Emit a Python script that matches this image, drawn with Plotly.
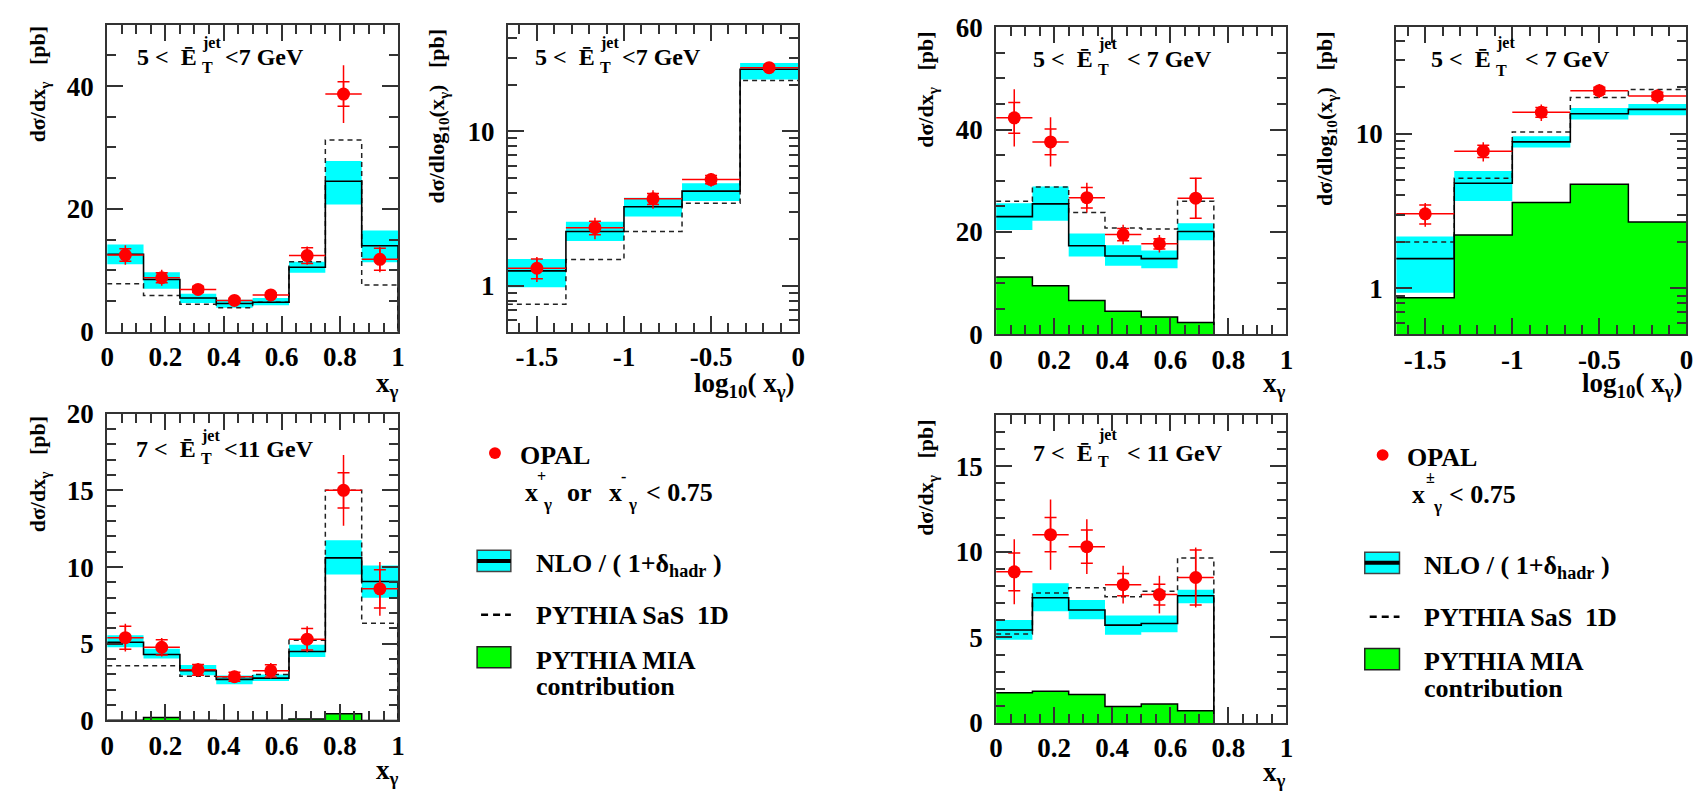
import plotly.graph_objects as go

W, H = 1706, 808
SERIF = "Liberation Serif, Times New Roman, Times, serif"
CYAN = "#00ffff"
GREEN = "#00ff00"
RED = "#ff0000"
AX = "#333333"

# ---------------- bin edges ----------------
xg_edges8 = [0, 0.125, 0.25, 0.375, 0.5, 0.625, 0.75, 0.875, 1.0]
xg_edges6 = [0, 0.125, 0.25, 0.375, 0.5, 0.625, 0.75]
lg_edges5 = [-5 / 3, -4 / 3, -1.0, -2 / 3, -1 / 3, 0.0]

# ---------------- panel A: x+ or x- < 0.75, 5<ET<7, dsigma/dx ----------------
a_nlo = [12.6, 8.5, 5.5, 4.6, 4.8, 10.5, 24.5, 14.0]
a_lo = [11.0, 7.0, 4.7, 3.9, 4.3, 9.6, 20.7, 11.3]
a_hi = [14.2, 9.7, 6.2, 5.2, 5.5, 11.4, 27.8, 16.5]
a_sas = [7.8, 5.9, 4.5, 3.9, 4.8, 11.4, 31.2, 7.6]
a_data = [12.5, 8.8, 6.9, 5.1, 6.0, 12.4, 38.7, 11.8]
a_stat = [1.0, 0.8, 0.5, 0.35, 0.35, 1.3, 2.0, 1.8]
a_tot = [1.6, 1.3, 0.8, 0.5, 0.5, 1.5, 4.7, 2.1]

# ---------------- panel B: x+ or x- < 0.75, 5<ET<7, dsigma/dlog10x ----------------
b_nlo = [1.25, 2.25, 3.25, 4.1, 25.2]
b_lo = [0.98, 1.95, 2.81, 3.54, 21.6]
b_hi = [1.49, 2.6, 3.71, 4.62, 27.7]
b_sas = [0.76, 1.48, 2.25, 3.42, 21.3]
b_data = [1.30, 2.38, 3.66, 4.87, 25.8]
b_stat = [0.19, 0.24, 0.3, 0.3, 0.9]
b_tot = [0.24, 0.38, 0.5, 0.5, 1.5]

# ---------------- panel C: x+ or x- < 0.75, 7<ET<11, dsigma/dx ----------------
c_nlo = [5.1, 4.3, 3.25, 2.68, 2.76, 4.5, 10.6, 9.06]
c_lo = [4.78, 4.04, 2.95, 2.36, 2.57, 4.14, 9.52, 8.0]
c_hi = [5.55, 4.67, 3.62, 2.93, 3.0, 4.94, 11.74, 10.1]
c_sas = [3.56, 3.56, 2.89, 2.85, 3.0, 5.23, 15.0, 6.34]
c_mia = [0.02, 0.2, 0.01, 0.0, 0.02, 0.1, 0.44, 0.0]
c_data = [5.4, 4.77, 3.3, 2.85, 3.24, 5.3, 15.0, 8.58]
c_stat = [0.75, 0.5, 0.35, 0.3, 0.4, 0.7, 1.15, 1.25]
c_tot = [0.9, 0.6, 0.45, 0.4, 0.5, 0.85, 2.3, 1.75]

# ---------------- panel D: x+- < 0.75, 5<ET<7, dsigma/dx ----------------
d_nlo = [23.0, 25.5, 17.3, 15.3, 14.8, 20.1]
d_lo = [20.4, 22.2, 15.2, 13.4, 12.9, 18.4]
d_hi = [25.6, 28.9, 19.7, 17.4, 16.4, 21.7]
d_sas = [26.0, 28.8, 23.8, 20.8, 20.6, 26.0]
d_mia = [11.2, 9.5, 6.6, 4.5, 3.4, 2.3]
d_data = [42.3, 37.6, 26.7, 19.5, 17.7, 26.6]
d_stat = [3.0, 2.5, 2.0, 1.2, 1.0, 3.9]
d_tot = [5.6, 4.8, 2.9, 1.9, 1.7, 4.0]

# ---------------- panel E: x+- < 0.75, 5<ET<7, dsigma/dlog10x ----------------
e_nlo = [1.56, 4.79, 8.88, 13.5, 14.4]
e_lo = [0.94, 3.68, 8.18, 12.4, 13.2]
e_hi = [2.17, 5.75, 9.67, 14.7, 15.6]
e_sas = [2.0, 5.17, 10.3, 17.2, 19.4]
e_mia = [0.87, 2.22, 3.6, 4.72, 2.69]
e_data = [3.04, 7.73, 13.8, 19.05, 17.6]
e_stat = [0.43, 0.7, 1.0, 1.0, 1.0]
e_tot = [0.53, 1.1, 1.7, 2.0, 1.85]

# ---------------- panel F: x+- < 0.75, 7<ET<11, dsigma/dx ----------------
f_nlo = [5.43, 7.32, 6.6, 5.72, 5.81, 7.43]
f_lo = [4.87, 6.53, 6.06, 5.15, 5.3, 7.0]
f_hi = [6.02, 8.17, 7.19, 6.28, 6.28, 7.79]
f_sas = [5.2, 7.6, 7.9, 7.38, 7.7, 9.64]
f_mia = [1.77, 1.85, 1.66, 0.96, 1.11, 0.72]
f_data = [8.83, 11.0, 10.3, 8.08, 7.5, 8.5]
f_stat = [1.1, 1.0, 0.97, 0.65, 0.6, 1.6]
f_tot = [1.9, 2.05, 1.6, 1.1, 1.1, 1.75]

LOG_FLOOR = 0.1  # below the visible log range; fills are clipped to the frame

fig = go.Figure()


def step(edges, vals, drop):
    x = list(edges)
    y = list(vals) + [vals[-1]]
    if drop:
        x = x + [edges[-1]]
        y = y + [0]
    return x, y


def add_panel(n, edges, nlo, lo, hi, sas, data, stat, tot, mia=None, log=False):
    xa = "x" if n == 1 else "x%d" % n
    ya = "y" if n == 1 else "y%d" % n
    drop = not log
    # NLO uncertainty band
    bx, by = step(edges, lo, False)
    fig.add_trace(go.Scatter(x=bx, y=by, mode="lines", line=dict(width=0, shape="hv"),
                             xaxis=xa, yaxis=ya, hoverinfo="skip"))
    bx, by = step(edges, hi, False)
    fig.add_trace(go.Scatter(x=bx, y=by, mode="lines", line=dict(width=0, shape="hv"),
                             fill="tonexty", fillcolor=CYAN, xaxis=xa, yaxis=ya, hoverinfo="skip"))
    # MIA contribution
    if mia is not None:
        mx, my = step(edges, mia, drop)
        if log:
            fig.add_trace(go.Scatter(x=[edges[0], edges[-1]], y=[LOG_FLOOR, LOG_FLOOR], mode="lines",
                                     line=dict(width=0), xaxis=xa, yaxis=ya, hoverinfo="skip"))
            fig.add_trace(go.Scatter(x=mx, y=my, mode="lines", line=dict(color="black", width=1.5, shape="hv"),
                                     fill="tonexty", fillcolor=GREEN, xaxis=xa, yaxis=ya))
        else:
            fig.add_trace(go.Scatter(x=mx, y=my, mode="lines", line=dict(color="black", width=1.5, shape="hv"),
                                     fill="tozeroy", fillcolor=GREEN, xaxis=xa, yaxis=ya))
    # PYTHIA SaS 1D
    sx, sy = step(edges, sas, drop)
    fig.add_trace(go.Scatter(x=sx, y=sy, mode="lines",
                             line=dict(color="#222222", width=1.5, dash="5px,4px", shape="hv"),
                             xaxis=xa, yaxis=ya))
    # NLO central
    nx, ny = step(edges, nlo, drop)
    fig.add_trace(go.Scatter(x=nx, y=ny, mode="lines", line=dict(color="black", width=1.6, shape="hv"),
                             xaxis=xa, yaxis=ya))
    # OPAL data
    cen = [(edges[i] + edges[i + 1]) / 2 for i in range(len(data))]
    hw = [(edges[i + 1] - edges[i]) / 2 for i in range(len(data))]
    fig.add_trace(go.Scatter(x=cen, y=data, mode="markers", marker=dict(size=13, color=RED),
                             error_y=dict(type="data", array=tot, width=0, thickness=1.5, color=RED),
                             error_x=dict(type="data", array=hw, width=0, thickness=1.5, color=RED),
                             xaxis=xa, yaxis=ya))
    fig.add_trace(go.Scatter(x=cen, y=data, mode="markers", marker=dict(size=1, color=RED),
                             error_y=dict(type="data", array=stat, width=6, thickness=1.5, color=RED),
                             xaxis=xa, yaxis=ya))


add_panel(1, xg_edges8, a_nlo, a_lo, a_hi, a_sas, a_data, a_stat, a_tot)
add_panel(2, lg_edges5, b_nlo, b_lo, b_hi, b_sas, b_data, b_stat, b_tot, log=True)
add_panel(3, xg_edges6, d_nlo, d_lo, d_hi, d_sas, d_data, d_stat, d_tot, mia=d_mia)
add_panel(4, lg_edges5, e_nlo, e_lo, e_hi, e_sas, e_data, e_stat, e_tot, mia=e_mia, log=True)
add_panel(5, xg_edges8, c_nlo, c_lo, c_hi, c_sas, c_data, c_stat, c_tot, mia=c_mia)
add_panel(6, xg_edges6, f_nlo, f_lo, f_hi, f_sas, f_data, f_stat, f_tot, mia=f_mia)


# ---------------- axes ----------------
def dom_x(a, b):
    return [a / W, b / W]


def dom_y(top, bottom):
    return [1 - bottom / H, 1 - top / H]


TICKFONT = dict(family=SERIF, size=27, color="black", weight="bold")


def base_axis(**kw):
    d = dict(showline=True, linecolor=AX, linewidth=2, mirror="ticks", ticks="inside",
             ticklen=16, tickwidth=1.5, tickcolor=AX, showgrid=False, zeroline=False,
             tickfont=TICKFONT, fixedrange=True)
    d.update(kw)
    return d


panels = {
    1: dict(x=(101, 394.3), y=(10, 329)),
    2: dict(x=(505, 797.7), y=(10, 329)),
    3: dict(x=(997.3, 1290), y=(12.7, 331.7)),
    4: dict(x=(1400.7, 1693.3), y=(12.7, 331.7)),
    5: dict(x=(101, 394.3), y=(414, 732.7)),
    6: dict(x=(997.3, 1290), y=(415.3, 735.3)),
}

lin_x = dict(range=[0, 1], tick0=0, dtick=0.2,
             minor=dict(ticks="inside", ticklen=9, tickwidth=1.5, tickcolor=AX, dtick=0.05, tick0=0))
log_x = dict(range=[-5 / 3, 0], tickvals=[-1.5, -1, -0.5, 0], ticktext=["-1.5", "-1", "-0.5", "0"],
             minor=dict(ticks="inside", ticklen=9, tickwidth=1.5, tickcolor=AX, dtick=0.1, tick0=0))
log_minor = [0.5, 0.6, 0.7, 0.8, 0.9, 2, 3, 4, 5, 6, 7, 8, 9, 20, 30, 40]
log_y = dict(type="log", range=[-0.297, 1.69], tickvals=[1, 10], ticktext=["1", "10"],
             minor=dict(ticks="inside", ticklen=9, tickwidth=1.5, tickcolor=AX, tickvals=log_minor))


def ymin(rng, major, minor):
    return dict(range=rng, tick0=0, dtick=major,
                minor=dict(ticks="inside", ticklen=9, tickwidth=1.5, tickcolor=AX, dtick=minor, tick0=0))


yspecs = {1: ymin([0, 50], 20, 5), 2: log_y, 3: ymin([0, 60], 20, 5), 4: log_y,
          5: ymin([0, 20], 5, 1), 6: ymin([0, 18], 5, 1)}
xspecs = {1: lin_x, 2: log_x, 3: lin_x, 4: log_x, 5: lin_x, 6: lin_x}

layout = {}
for n, p in panels.items():
    xk = "xaxis" if n == 1 else "xaxis%d" % n
    yk = "yaxis" if n == 1 else "yaxis%d" % n
    xa = "x" if n == 1 else "x%d" % n
    ya = "y" if n == 1 else "y%d" % n
    layout[xk] = base_axis(domain=dom_x(*p["x"]), anchor=ya, ticklabelstandoff=0, **xspecs[n])
    layout[yk] = base_axis(domain=dom_y(*p["y"]), anchor=xa, ticklabelstandoff=6, **yspecs[n])


# ---------------- text ----------------
def ann(text, xpx, ypx, size, xanchor="left", yanchor="middle", angle=0):
    return dict(text=text, x=xpx / W, y=1 - ypx / H, xref="paper", yref="paper",
                xanchor=xanchor, yanchor=yanchor, showarrow=False, textangle=angle,
                font=dict(family=SERIF, size=size, color="black", weight="bold"))


def top_of(base, fs):
    return base - 0.891 * fs - 1


anns = []
MAIN = 24
SMALL = 16
et_labels = [
    ("5 <\u00a0 \u0112", "<7 GeV", 194, 50, 29, 55, 218),
    ("5 <\u00a0 \u0112", "<7 GeV", 595, 50, 29, 55, 618),
    ("5 <\u00a0 \u0112", "< 7 GeV", 1097, 53, 30, 57, 1127),
    ("5 <\u00a0 \u0112", "< 7 GeV", 1498, 53, 29, 58, 1529),
    ("7 <\u00a0 \u0112", "<11 GeV", 193, 458, 437, 461, 217),
    ("7 <\u00a0 \u0112", "< 11 GeV", 1097, 462, 436, 464, 1127),
]
for left, right, ex, base, jc, tc, rx in et_labels:
    anns.append(ann(left, ex, top_of(base, MAIN), MAIN, xanchor="right", yanchor="top"))
    anns.append(ann("jet", ex + 1, jc, SMALL))
    anns.append(ann("T", ex + 1, tc, SMALL))
    anns.append(ann(right, rx, top_of(base, MAIN), MAIN, yanchor="top"))

ytitle_lin = "d\u03c3/dx<sub>\u03b3</sub>\u00a0\u00a0\u00a0[pb]"
ytitle_log = "d\u03c3/dlog<sub>10</sub>(x<sub>\u03b3</sub>)\u00a0\u00a0\u00a0[pb]"
for txt, cx, top in [(ytitle_lin, 32, 10), (ytitle_log, 435, 12), (ytitle_lin, 928, 15),
                     (ytitle_log, 1330, 15), (ytitle_lin, 32, 415), (ytitle_lin, 928, 418)]:
    anns.append(ann(txt, cx, top, 22, xanchor="center", yanchor="top", angle=-90))

xt_lin = "x<sub>\u03b3</sub>"
xt_log = "log<sub>10</sub>( x<sub>\u03b3</sub>)"
for txt, rx, base in [(xt_lin, 397, 390), (xt_log, 797, 390), (xt_lin, 1292, 390),
                      (xt_log, 1692, 390), (xt_lin, 397, 792), (xt_lin, 1292, 794)]:
    anns.append(ann(txt, rx, top_of(base, 27), 27, xanchor="right", yanchor="top"))

LEG = 26
# legend 1
anns.append(ann("OPAL", 515, top_of(465, LEG), LEG, yanchor="top"))
anns.append(ann("x", 520, top_of(503, LEG), LEG, yanchor="top"))
anns.append(ann("+", 539, 479, 16, xanchor="center"))
anns.append(ann("\u03b3", 545, 508, 17, xanchor="center"))
anns.append(ann("or", 563, top_of(503, LEG), LEG, yanchor="top"))
anns.append(ann("x", 605, top_of(503, LEG), LEG, yanchor="top"))
anns.append(ann("-", 622, 479, 16, xanchor="center"))
anns.append(ann("\u03b3", 631, 508, 17, xanchor="center"))
anns.append(ann("< 0.75", 642, top_of(503, LEG), LEG, yanchor="top"))
anns.append(ann("NLO / ( 1+\u03b4<sub>hadr</sub> )", 531, top_of(577, LEG), LEG, yanchor="top"))
anns.append(ann("PYTHIA SaS\u00a0 1D", 531, top_of(631, LEG), LEG, yanchor="top"))
anns.append(ann("PYTHIA MIA", 531, top_of(677, LEG), LEG, yanchor="top"))
anns.append(ann("contribution", 531, top_of(704, LEG), LEG, yanchor="top"))
# legend 2
anns.append(ann("OPAL", 1410, top_of(467, LEG), LEG, yanchor="top"))
anns.append(ann("x", 1415, top_of(505, LEG), LEG, yanchor="top"))
anns.append(ann("\u00b1", 1435, 480, 16, xanchor="center"))
anns.append(ann("\u03b3", 1442, 510, 17, xanchor="center"))
anns.append(ann("< 0.75", 1452, top_of(505, LEG), LEG, yanchor="top"))
anns.append(ann("NLO / ( 1+\u03b4<sub>hadr</sub> )", 1427, top_of(579, LEG), LEG, yanchor="top"))
anns.append(ann("PYTHIA SaS\u00a0 1D", 1427, top_of(633, LEG), LEG, yanchor="top"))
anns.append(ann("PYTHIA MIA", 1427, top_of(678, LEG), LEG, yanchor="top"))
anns.append(ann("contribution", 1427, top_of(706, LEG), LEG, yanchor="top"))


def rect(x0, y0, x1, y1, fill, line="#444444", lw=1.5):
    return dict(type="rect", xref="paper", yref="paper", x0=x0 / W, x1=x1 / W,
                y0=1 - y1 / H, y1=1 - y0 / H, fillcolor=fill, line=dict(color=line, width=lw))


def hline(x0, x1, y, lw, dash="solid"):
    return dict(type="line", xref="paper", yref="paper", x0=x0 / W, x1=x1 / W,
                y0=1 - y / H, y1=1 - y / H, line=dict(color="black", width=lw, dash=dash))


def dot(cx, cy, r):
    return dict(type="circle", xref="paper", yref="paper", x0=(cx - r) / W, x1=(cx + r) / W,
                y0=1 - (cy + r) / H, y1=1 - (cy - r) / H, fillcolor=RED, line=dict(width=0))


shapes = []
for (dx, dy, bx0, bx1, by0, dxx, dyy, gy0) in [(492, 455, 474, 508, 556, 478, 623, 656),
                                               (1387, 457, 1369, 1404, 558, 1374, 625, 658)]:
    shapes.append(dot(dx, dy, 6))
    shapes.append(rect(bx0, by0, bx1, by0 + 22, CYAN))
    shapes.append(hline(bx0, bx1, by0 + 11, 4))
    shapes.append(hline(dxx, bx1, dyy, 2.5, dash="7px,5px"))
    shapes.append(rect(bx0, gy0, bx1, gy0 + 22, GREEN, line="#222222"))

fig.update_layout(width=W, height=H, margin=dict(l=0, r=0, t=0, b=0),
                  paper_bgcolor="white", plot_bgcolor="white", showlegend=False,
                  annotations=anns, shapes=shapes, **layout)

fig.write_html("out.html")
